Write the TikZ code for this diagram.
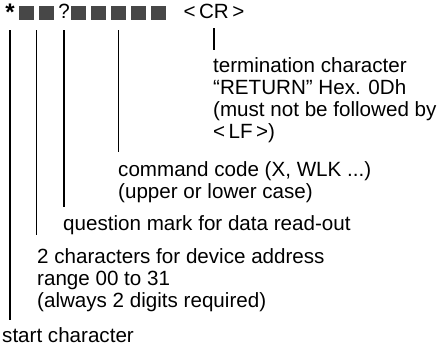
\documentclass[tikz,border=0pt]{standalone}
\usepackage{fontspec}
\setmainfont{Liberation Sans}
\usetikzlibrary{calc}

\begin{document}
\begin{tikzpicture}[x=1pt,y=-1pt,
    every node/.style={font=\fontsize{20.6}{22}\selectfont},
    cell/.style={fill=black!72, minimum size=14.5pt, inner sep=0pt},
    sym/.style={inner sep=0pt, anchor=base},
    lbl/.style={inner sep=0pt, anchor=base west, align=left},
    lead/.style={line width=1.1pt}]
    \useasboundingbox (0,0) rectangle (442,350);

    % command string
    \node[sym, font=\fontsize{24}{24}\bfseries] (star) at (10,21) {*};
    \node[cell] (addrA) at (26.5,13) {};
    \node[cell] (addrB) at (46.5,13) {};
    \node[sym] (qmark) at (64,19) {?};
    \node[cell] (cmdA) at (78.5,13) {};
    \node[cell] (cmdB) at (98.5,13) {};
    \node[cell] (cmdC) at (118.5,13) {};
    \node[cell] (cmdD) at (138.5,13) {};
    \node[cell] (cmdE) at (158.5,13) {};
    \node[sym] (cr) at (214,19) {<\,CR\,>};

    % explanations (base = last line)
    \node[lbl] (term) at (213,139) {termination character\\``RETURN'' Hex. 0Dh\\(must not be followed by\\<\,LF\,>)};
    \node[lbl] (cmd) at (118,199) {command code (X, WLK ...)\\(upper or lower case)};
    \node[lbl] (query) at (63,230) {question mark for data read-out};
    \node[lbl] (addr) at (37,307) {2 characters for device address\\range 00 to 31\\(always 2 digits required)};
    \node[lbl] (start) at (2,342) {start character};

    \coordinate (addrmid) at ($(addrA.south)!0.5!(addrB.south)$);

    \draw[lead, shorten <=9pt, shorten >=8pt] (cr.south) -- (cr.south |- term.north);
    \draw[lead, shorten <=10pt, shorten >=10pt] (cmdC.south) -- (cmdC.south |- cmd.north);
    \draw[lead, shorten <=11pt, shorten >=8pt] (qmark.south) -- (qmark.south |- query.north);
    \draw[lead, shorten <=10pt, shorten >=13pt] (addrmid) -- (addrmid |- addr.north);
    \draw[lead, shorten <=9pt, shorten >=7pt] (star.south) -- (star.south |- start.north);
\end{tikzpicture}
\end{document}
